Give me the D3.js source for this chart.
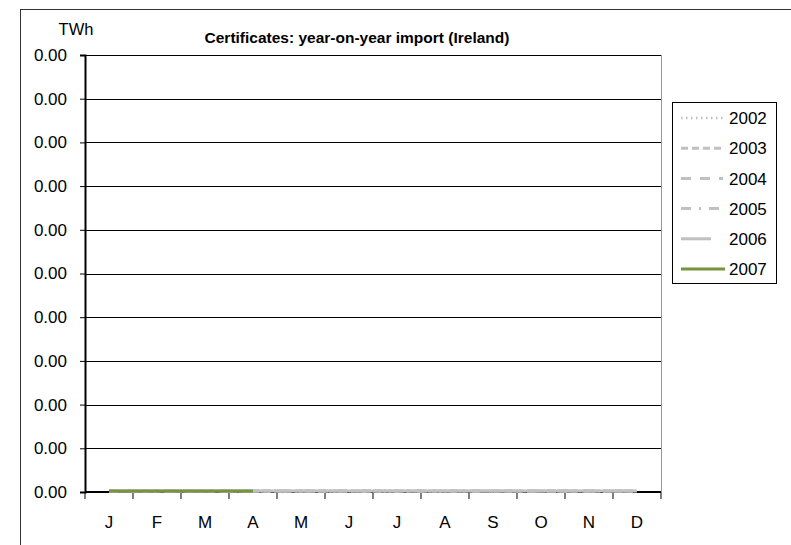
<!DOCTYPE html>
<html><head><meta charset="utf-8">
<script src="https://cdn.jsdelivr.net/npm/d3@7"></script>
<style>
body{margin:0;background:#fff;}
text{font-family:"Liberation Sans",Arial,sans-serif;}
</style></head>
<body>
<svg id="chart" width="791" height="545"></svg>
<script>
const months = ["J","F","M","A","M","J","J","A","S","O","N","D"];
const years = ["2002","2003","2004","2005","2006","2007"];
const v2002 = [0,0,0,0,0,0,0,0,0,0,0,0];
const v2003 = [0,0,0,0,0,0,0,0,0,0,0,0];
const v2004 = [0,0,0,0,0,0,0,0,0,0,0,0];
const v2005 = [0,0,0,0,0,0,0,0,0,0,0,0];
const v2006 = [0,0,0,0,0,0,0,0,0,0,0,0];
const v2007 = [0,0,0,0];
const yTicks = [0,0.0001,0.0002,0.0003,0.0004,0.0005,0.0006,0.0007,0.0008,0.0009,0.001];
const title = "Certificates: year-on-year import (Ireland)";
const unit = "TWh";

const seriesValues = [v2002,v2003,v2004,v2005,v2006,v2007];
const styles = [
  {color:"#c0c0c0", dash:"1.5,3.5", w:2.5},
  {color:"#c0c0c0", dash:"7,4", w:3},
  {color:"#c0c0c0", dash:"10,9", w:3},
  {color:"#c0c0c0", dash:"10,8,2,8", w:3},
  {color:"#c0c0c0", dash:null, w:3},
  {color:"#77933c", dash:null, w:3}
];

const svg = d3.select("#chart");
// outer frame
svg.append("rect").attr("x",20.5).attr("y",9.5).attr("width",800).attr("height",600)
  .attr("fill","none").attr("stroke","#333").attr("stroke-width",1);

const L=85, R=661, T=55, B=492;
const x = d3.scaleBand().domain(d3.range(12)).range([L,R]);
const y = d3.scaleLinear().domain([0,0.001]).range([B,T]);

// gridlines
svg.append("g").selectAll("line").data(yTicks.slice(1)).join("line")
  .attr("x1",L).attr("x2",R).attr("y1",d=>Math.round(y(d))+0.5).attr("y2",d=>Math.round(y(d))+0.5)
  .attr("stroke","#000").attr("stroke-width",1);
// right border of plot
svg.append("line").attr("x1",R+0.5).attr("x2",R+0.5).attr("y1",T).attr("y2",B)
  .attr("stroke","#999").attr("stroke-width",1);

// y axis
const yAxis = d3.axisLeft(y).tickValues(yTicks).tickFormat(d3.format(".2f")).tickSize(5).tickPadding(14);
const gy = svg.append("g").attr("transform",`translate(${L},0)`).call(yAxis);
gy.select(".domain").attr("stroke","#000").attr("stroke-width",2);
gy.selectAll(".tick line").attr("stroke","#000");
gy.selectAll(".tick text").attr("font-size",17).attr("fill","#000").attr("x",-18);

// x axis
const xTickScale = d3.scaleLinear().domain([0,12]).range([L,R]);
const gx = svg.append("g").attr("transform",`translate(0,${B})`);
gx.append("line").attr("x1",L).attr("x2",R).attr("y1",0).attr("y2",0).attr("stroke","#000").attr("stroke-width",2);
gx.selectAll("line.t").data(d3.range(13)).join("line").attr("class","t")
  .attr("x1",d=>xTickScale(d)).attr("x2",d=>xTickScale(d)).attr("y1",0).attr("y2",7)
  .attr("stroke","#000").attr("stroke-width",1);
gx.selectAll("text").data(months).join("text")
  .attr("x",(d,i)=>x(i)+x.bandwidth()/2).attr("y",36).attr("text-anchor","middle")
  .attr("font-size",17).attr("fill","#000").text(d=>d);

// series lines
const line = d3.line().x((d,i)=>x(i)+x.bandwidth()/2).y(d=>y(d)-1);
const gl = svg.append("g");
seriesValues.forEach((vals,k)=>{
  const p = gl.append("path").datum(vals).attr("d",line).attr("fill","none")
    .attr("stroke",styles[k].color).attr("stroke-width",styles[k].w);
  if(styles[k].dash) p.attr("stroke-dasharray",styles[k].dash);
});

// title
svg.append("text").attr("x",357).attr("y",43).attr("text-anchor","middle")
  .attr("font-size",15.5).attr("font-weight","bold").attr("fill","#000").text(title);
svg.append("text").attr("x",76).attr("y",35).attr("text-anchor","middle")
  .attr("font-size",16.5).attr("fill","#000").text(unit);

// legend
const lg = svg.append("g");
lg.append("rect").attr("x",672.5).attr("y",102.5).attr("width",104).attr("height",181)
  .attr("fill","#fff").attr("stroke","#000").attr("stroke-width",1);
const legLen = [42,42,42,42,30,44];
years.forEach((yr,k)=>{
  const cy = 118 + k*30.2;
  const l = lg.append("line").attr("x1",681).attr("x2",681+legLen[k]).attr("y1",cy).attr("y2",cy)
    .attr("stroke",styles[k].color).attr("stroke-width",styles[k].w);
  if(styles[k].dash) l.attr("stroke-dasharray",styles[k].dash);
  lg.append("text").attr("x",729).attr("y",cy).attr("dy","0.36em").attr("font-size",17)
    .attr("fill","#000").text(yr);
});
</script>
</body></html>
